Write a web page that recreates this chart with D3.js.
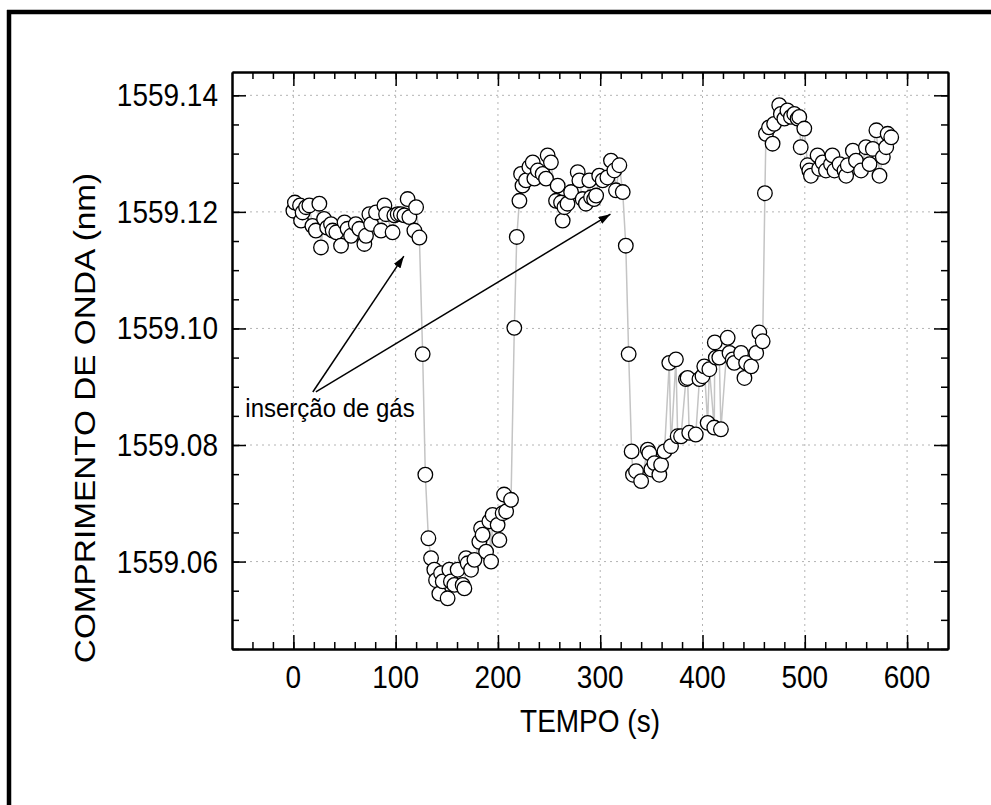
<!DOCTYPE html>
<html lang="pt">
<head>
<meta charset="UTF-8">
<title>Comprimento de onda x tempo</title>
<style>
  body { margin: 0; background: #fff; }
  svg text { font-family: Arial, "Liberation Sans", sans-serif; fill: #000; }
</style>
</head>
<body>
<script src="https://d3js.org/d3.v7.min.js"></script>
<script>
// tempo (s)
var time = [0, 1.5, 6.5, 7.5, 9, 12.4, 15.6, 18.6, 22, 25.4, 27, 30, 33, 36.8, 38.4, 42, 46.6, 50, 53, 56.4,
  61, 64.5, 69.4, 71, 74.3, 76, 80.8, 85.7, 89, 90.6, 97, 98.7, 102, 105, 108.5, 111.7, 113.4, 118.3, 120, 123.2,
  126.4, 129, 132, 134.6, 137.8, 139.5, 142.7, 144.4, 146, 150.8, 152.5, 154, 157.4, 160.6, 165.5, 167.2, 168.8, 170.4, 173.7, 177,
  181.8, 183.5, 185, 188.4, 191.6, 193.3, 194.8, 199.7, 201.4, 204.6, 206, 208, 212.8, 216, 218.4,
  221, 222.6, 224, 227.4, 230.7, 234, 235.6, 239, 243.7, 247, 248.6, 251.8, 256.8, 258.4, 261.7, 263.3, 265, 268, 271.5,
  278, 279.6, 282.8, 286, 289.3, 291, 294, 296, 299, 302.4, 307, 310.5, 313.8, 315.4, 318.7, 322,
  325, 327.8, 330.7, 332, 335, 340, 346.5, 348, 350, 353, 357.8, 359.5, 362.8, 367.5, 369.2, 374, 375.7, 379,
  383.8, 385.4, 387, 393.4, 397, 400, 401.7, 405, 406.7, 411.5, 412, 413, 416.4, 418, 424.6, 426.4, 429.5, 431,
  437.7, 441, 442.6, 447.6, 452.5, 455.5, 458.8,
  461, 462, 465, 468.5, 470, 475, 476.6, 480, 483, 486.4, 489.7, 493, 494.6, 496, 499.5, 502.7, 504.4, 506,
  512.5, 514, 517.4, 520.7, 525.6, 527, 529, 534, 538.8, 540.4, 542, 547, 550, 555, 559.8, 563.3, 566.5,
  570, 573, 576.3, 579.6, 581, 584.5];

// comprimento de onda (nm)
var wavelength = [1559.1202, 1559.1216, 1559.1211, 1559.1185, 1559.1199, 1559.1208, 1559.1211, 1559.1176, 1559.1168, 1559.1214,
  1559.1139, 1559.1188, 1559.1173, 1559.1179, 1559.1168, 1559.1165, 1559.1142, 1559.1182, 1559.1171, 1559.1159,
  1559.1179, 1559.1171, 1559.1145, 1559.1159, 1559.1196, 1559.1179, 1559.1199, 1559.1168, 1559.1211, 1559.1196,
  1559.1165, 1559.1194, 1559.1196, 1559.1196, 1559.1194, 1559.1222, 1559.1191, 1559.1168, 1559.1208, 1559.1156,
  1559.0956, 1559.0749, 1559.0640, 1559.0606, 1559.0586, 1559.0568, 1559.0545, 1559.0580, 1559.0566, 1559.0537,
  1559.0586, 1559.0566, 1559.0560, 1559.0586, 1559.0560, 1559.0554, 1559.0606, 1559.0597, 1559.0586, 1559.0603,
  1559.0634, 1559.0657, 1559.0646, 1559.0617, 1559.0669, 1559.0600, 1559.0680, 1559.0663, 1559.0637, 1559.0683,
  1559.0715, 1559.0686, 1559.0706, 1559.1001, 1559.1157,
  1559.1219, 1559.1265, 1559.1245, 1559.1254, 1559.1277, 1559.1285, 1559.1257, 1559.1271, 1559.1265, 1559.1257,
  1559.1297, 1559.1285, 1559.1219, 1559.1245, 1559.1216, 1559.1185, 1559.1208, 1559.1214, 1559.1234,
  1559.1268, 1559.1254, 1559.1222, 1559.1214, 1559.1254, 1559.1225, 1559.1222, 1559.1228, 1559.1262, 1559.1254,
  1559.1259, 1559.1288, 1559.1271, 1559.1237, 1559.1280, 1559.1234,
  1559.1142, 1559.0956, 1559.0789, 1559.0749, 1559.0755, 1559.0738, 1559.0792, 1559.0786, 1559.0758, 1559.0769,
  1559.0749, 1559.0766, 1559.0789, 1559.0941, 1559.0798, 1559.0947, 1559.0815, 1559.0815,
  1559.0913, 1559.0915, 1559.0821, 1559.0818, 1559.0913, 1559.0918, 1559.0935, 1559.0838, 1559.0930, 1559.0830,
  1559.0976, 1559.0950, 1559.0950, 1559.0827, 1559.0984, 1559.0958, 1559.0947, 1559.0941,
  1559.0958, 1559.0915, 1559.0941, 1559.0935, 1559.0958, 1559.0993, 1559.0978,
  1559.1232, 1559.1334, 1559.1345, 1559.1317, 1559.1351, 1559.1383, 1559.1368, 1559.1360, 1559.1374, 1559.1363,
  1559.1368, 1559.1360, 1559.1363, 1559.1311, 1559.1343, 1559.1280, 1559.1271, 1559.1262,
  1559.1297, 1559.1274, 1559.1285, 1559.1271, 1559.1282, 1559.1297, 1559.1271, 1559.1282, 1559.1271, 1559.1262,
  1559.1280, 1559.1305, 1559.1288, 1559.1271, 1559.1311, 1559.1282, 1559.1308,
  1559.1340, 1559.1262, 1559.1294, 1559.1311, 1559.1334, 1559.1328];

var xTicks = [0, 100, 200, 300, 400, 500, 600];
var yTicks = [1559.06, 1559.08, 1559.10, 1559.12, 1559.14];
var xMinor = d3.range(-40, 640, 20);
var yMinor = d3.range(9045, 9145, 5).map(function(v){ return 1550 + v / 1000; });

// anotação: texto e setas (em coordenadas dos dados)
var noteText = "inserção de gás";
var notePos = [-47, 1559.0848];
var arrows = [
  {from: [19, 1559.0891], to: [108, 1559.1124]},
  {from: [22, 1559.0891], to: [310, 1559.1196]}
];

var W = 991, H = 805;
var plotL = 232, plotR = 948, plotT = 72, plotB = 649;

var svg = d3.select("body").append("svg").attr("width", W).attr("height", H);

var x = d3.scaleLinear().domain([-60, 640]).range([plotL, plotR]);
var y = d3.scaleLinear().domain([1559.045, 1559.144]).range([plotB, plotT]);

// moldura externa
svg.append("line").attr("x1", 7).attr("x2", W).attr("y1", 12).attr("y2", 12)
  .attr("stroke", "#000").attr("stroke-width", 4.5);
svg.append("line").attr("x1", 9).attr("x2", 9).attr("y1", 10).attr("y2", H)
  .attr("stroke", "#000").attr("stroke-width", 4.5);

// grade pontilhada
var grid = svg.append("g").attr("stroke", "#b4b4b4").attr("stroke-width", 1).attr("stroke-dasharray", "2,4");
grid.selectAll(".gx").data(xTicks).enter().append("line")
  .attr("x1", function(d){ return x(d); }).attr("x2", function(d){ return x(d); })
  .attr("y1", plotT).attr("y2", plotB);
grid.selectAll(".gy").data(yTicks).enter().append("line")
  .attr("y1", function(d){ return y(d); }).attr("y2", function(d){ return y(d); })
  .attr("x1", plotL).attr("x2", plotR);

// linha ligando os pontos
var pts = time.map(function(t, i){ return [t, wavelength[i]]; });
var line = d3.line().x(function(d){ return x(d[0]); }).y(function(d){ return y(d[1]); });
svg.append("path").datum(pts).attr("d", line)
  .attr("fill", "none").attr("stroke", "#c4c4c4").attr("stroke-width", 1.5);

svg.selectAll("circle.pt").data(pts).enter().append("circle").attr("class", "pt")
  .attr("cx", function(d){ return x(d[0]); })
  .attr("cy", function(d){ return y(d[1]); })
  .attr("r", 7.3)
  .attr("fill", "#fff").attr("stroke", "#000").attr("stroke-width", 1.3);

// eixos (ticks para dentro, nos quatro lados)
function addAxis(axisFn, ticks, size, tx, ty) {
  var g = svg.append("g").attr("transform", "translate(" + tx + "," + ty + ")")
    .call(axisFn.tickValues(ticks).tickSize(-size).tickSizeOuter(0).tickFormat(""));
  g.select(".domain").attr("stroke", "#000").attr("stroke-width", 2);
  g.selectAll(".tick line").attr("stroke", "#000").attr("stroke-width", 1.5);
  g.selectAll("text").remove();
}
addAxis(d3.axisBottom(x), xMinor, 7, 0, plotB);
addAxis(d3.axisBottom(x), xTicks, 14, 0, plotB);
addAxis(d3.axisTop(x), xMinor, 7, 0, plotT);
addAxis(d3.axisTop(x), xTicks, 14, 0, plotT);
addAxis(d3.axisLeft(y), yMinor, 7, plotL, 0);
addAxis(d3.axisLeft(y), yTicks, 14, plotL, 0);
addAxis(d3.axisRight(y), yMinor, 7, plotR, 0);
addAxis(d3.axisRight(y), yTicks, 14, plotR, 0);

// rótulos dos ticks
svg.selectAll("text.xl").data(xTicks).enter().append("text").attr("class", "xl")
  .attr("transform", function(d){ return "translate(" + x(d) + "," + 688 + ") scale(1,1.12)"; })
  .attr("text-anchor", "middle").style("font-size", "28px")
  .text(function(d){ return d; });
svg.selectAll("text.yl").data(yTicks).enter().append("text").attr("class", "yl")
  .attr("transform", function(d){ return "translate(" + 218 + "," + (y(d) + 11) + ") scale(1,1.1)"; })
  .attr("text-anchor", "end").style("font-size", "28px")
  .text(function(d){ return d3.format(".2f")(d); });

// títulos
svg.append("text")
  .attr("transform", "translate(" + ((plotL + plotR) / 2) + ",732) scale(1,1.1)")
  .attr("text-anchor", "middle").style("font-size", "28px")
  .text("TEMPO (s)");
svg.append("text")
  .attr("transform", "translate(95,418) rotate(-90) scale(1.15,1)")
  .attr("text-anchor", "middle").style("font-size", "29px")
  .text("COMPRIMENTO DE ONDA (nm)");

// anotação
svg.append("defs").append("marker").attr("id", "head")
  .attr("viewBox", "0 0 12 8").attr("refX", 12).attr("refY", 4)
  .attr("markerWidth", 12).attr("markerHeight", 8).attr("markerUnits", "userSpaceOnUse")
  .attr("orient", "auto")
  .append("path").attr("d", "M0,0 L12,4 L0,8 Z").attr("fill", "#000");
svg.selectAll("line.arrow").data(arrows).enter().append("line").attr("class", "arrow")
  .attr("x1", function(d){ return x(d.from[0]); }).attr("y1", function(d){ return y(d.from[1]); })
  .attr("x2", function(d){ return x(d.to[0]); }).attr("y2", function(d){ return y(d.to[1]); })
  .attr("stroke", "#000").attr("stroke-width", 1.5).attr("marker-end", "url(#head)");
svg.append("text")
  .attr("transform", "translate(" + x(notePos[0]) + "," + y(notePos[1]) + ") scale(1,1.1)")
  .style("font-size", "24px")
  .text(noteText);
</script>
</body>
</html>
